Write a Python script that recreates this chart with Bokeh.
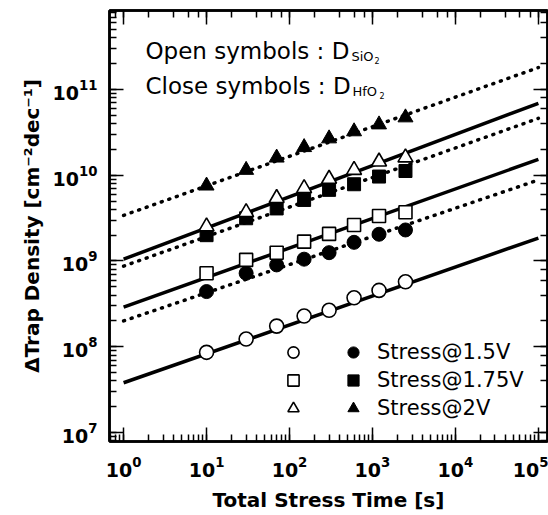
from bokeh.plotting import figure
from bokeh.models import LogAxis, Range1d, Label, Legend, LegendItem, LogTicker, CustomJSTickFormatter
from bokeh.embed import file_html
from bokeh.resources import INLINE

# ---- data ----
time_s = [10, 30, 70, 150, 300, 600, 1200, 2500]

sio2_15 = [8.6e7, 1.23e8, 1.74e8, 2.28e8, 2.66e8, 3.72e8, 4.54e8, 5.72e8]
hfo2_15 = [4.4e8, 7.2e8, 9.0e8, 1.05e9, 1.25e9, 1.65e9, 2.05e9, 2.3e9]
sio2_175 = [7.2e8, 1.03e9, 1.25e9, 1.68e9, 2.07e9, 2.63e9, 3.35e9, 3.7e9]
hfo2_175 = [2.0e9, 3.15e9, 4.1e9, 5.15e9, 6.75e9, 7.85e9, 9.65e9, 1.12e10]
sio2_2 = [2.52e9, 3.7e9, 5.4e9, 7.05e9, 9.06e9, 1.15e10, 1.44e10, 1.61e10]
hfo2_2 = [7.55e9, 1.15e10, 1.6e10, 2.12e10, 2.68e10, 3.24e10, 3.9e10, 4.71e10]

fit_time = [1, 1e5]
fit_sio2_15 = [3.8e7, 1.85e9]
fit_hfo2_15 = [2.0e8, 8.8e9]
fit_sio2_175 = [2.9e8, 1.53e10]
fit_hfo2_175 = [8.7e8, 4.6e10]
fit_sio2_2 = [1.05e9, 6.9e10]
fit_hfo2_2 = [3.4e9, 1.8e11]

legend_labels = ["Stress@1.5V", "Stress@1.75V", "Stress@2V"]

x_limits = [10 ** -0.17, 10 ** 5.11]
y_limits = [10 ** 6.895, 10 ** 11.921]

FONT = "DejaVu Sans"

p = figure(width=548, height=515, x_axis_type="log", y_axis_type="log",
           x_range=Range1d(*x_limits), y_range=Range1d(*y_limits),
           output_backend="svg", toolbar_location=None,
           min_border_left=109, min_border_right=1, min_border_top=10,
           min_border_bottom=74)

p.grid.visible = False
p.outline_line_color = "black"
p.outline_line_width = 2.5
p.background_fill_color = "white"
p.border_fill_color = "white"

xa = p.below[0]
ya = p.left[0]

blank = CustomJSTickFormatter(code="return '';")
top_axis = LogAxis(ticker=LogTicker(), formatter=blank)
right_axis = LogAxis(ticker=LogTicker(), formatter=blank)
p.add_layout(top_axis, "above")
p.add_layout(right_axis, "right")

for ax in [xa, ya, top_axis, right_axis]:
    ax.axis_line_width = 2.5
    ax.axis_line_color = "black"
    ax.major_tick_in = 14
    ax.major_tick_out = 0
    ax.minor_tick_in = 7
    ax.minor_tick_out = 0
    ax.major_tick_line_width = 1.5
    ax.minor_tick_line_width = 1.5
    ax.major_tick_line_color = "black"
    ax.minor_tick_line_color = "black"
    ax.major_label_text_font = FONT
    ax.major_label_text_font_style = "bold"
    ax.major_label_text_font_size = "19px"
    ax.major_label_text_color = "black"

for ax in [top_axis, right_axis]:
    ax.major_label_standoff = 0

xa.major_label_standoff = 14
ya.major_label_standoff = 12
xa.axis_label = "Total Stress Time [s]"
ya.axis_label = "\u0394Trap Density [cm\u207b\u00b2dec\u207b\u00b9]"
for ax in [xa, ya]:
    ax.axis_label_text_font = FONT
    ax.axis_label_text_font_style = "bold"
    ax.axis_label_text_font_size = "20px"
    ax.axis_label_text_color = "black"
xa.axis_label_standoff = 8
ya.axis_label_standoff = 6

# fit lines
p.line(fit_time, fit_sio2_15, line_color="black", line_width=3.5)
p.line(fit_time, fit_sio2_175, line_color="black", line_width=3.5)
p.line(fit_time, fit_sio2_2, line_color="black", line_width=3.5)
for fy in [fit_hfo2_15, fit_hfo2_175, fit_hfo2_2]:
    p.line(fit_time, fy, line_color="black", line_width=3.5,
           line_dash="1 7", line_cap="round")

# filled symbols (HfO2)
r_fc = p.scatter(time_s, hfo2_15, marker="circle", size=14, fill_color="black", line_color="black")
r_fs = p.scatter(time_s, hfo2_175, marker="square", size=13, fill_color="black", line_color="black")
r_ft = p.scatter(time_s, hfo2_2, marker="triangle", size=15, fill_color="black", line_color="black")
# open symbols (SiO2)
r_oc = p.scatter(time_s, sio2_15, marker="circle", size=14, fill_color="white", line_color="black", line_width=1.6)
r_os = p.scatter(time_s, sio2_175, marker="square", size=13, fill_color="white", line_color="black", line_width=1.6)
r_ot = p.scatter(time_s, sio2_2, marker="triangle", size=15, fill_color="white", line_color="black", line_width=1.6)

def make_legend(renderers, labels, loc):
    leg = Legend(items=[LegendItem(label=l, renderers=[r]) for l, r in zip(labels, renderers)],
                 location=loc, orientation="vertical",
                 glyph_width=30, glyph_height=28, label_height=28, spacing=0,
                 padding=0, margin=0, label_standoff=9,
                 label_text_font=FONT, label_text_font_size="21px",
                 label_text_color="black",
                 background_fill_alpha=0, border_line_alpha=0)
    return leg

p.add_layout(make_legend([r_oc, r_os, r_ot], [" ", " ", " "], (169, 19)))
p.add_layout(make_legend([r_fc, r_fs, r_ft], legend_labels, (229, 19)))

# annotation text (top left)
def lab(x, y, text, size, style="normal"):
    p.add_layout(Label(x=x, y=y, x_units="screen", y_units="screen", text=text,
                       text_font=FONT, text_font_size=size, text_font_style=style,
                       text_color="black", text_baseline="alphabetic"))

lab(36, 441 - 50, "Open symbols : D", "23px")
lab(242, 441 - 56, "SiO", "13px")
lab(265, 441 - 60, "2", "8px")
lab(36, 441 - 85, "Close symbols : D", "23px")
lab(243, 441 - 91, "HfO", "13px")
lab(270, 441 - 95, "2", "8px")

open("out.html", "w").write(file_html(p, INLINE))
